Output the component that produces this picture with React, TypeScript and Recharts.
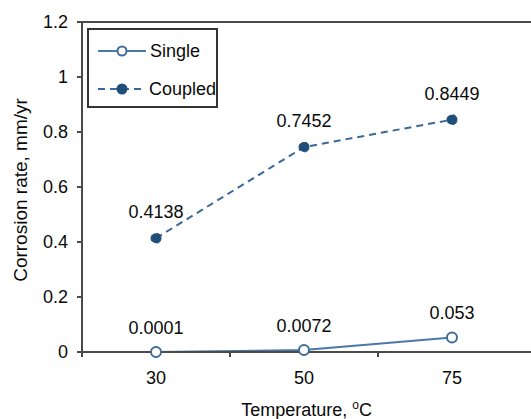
import { LineChart, Line, XAxis, YAxis, Legend, LabelList, ReferenceLine } from 'recharts';

const temperatures = ['30', '50', '75'];
const singleRate = [0.0001, 0.0072, 0.053];
const coupledRate = [0.4138, 0.7452, 0.8449];
const yTicks = [0, 0.2, 0.4, 0.6, 0.8, 1, 1.2];
// category centres at whole numbers, tick marks halfway between them
const xTicks = [-0.5, 0, 0.5, 1, 1.5, 2];
const seriesOrder = ['single', 'coupled'];

const data = temperatures.map((t, i) => ({
  temp: t,
  pos: i,
  single: singleRate[i],
  coupled: coupledRate[i],
}));

const FONT = '"Liberation Sans", Arial, sans-serif';
const AXIS = '#4a4a4a';
const TEXT = '#0a0a0a';

const series: Record<string, { stroke: string; dash?: string; fill: string; dot: string }> = {
  single: { stroke: '#4a78a8', fill: '#fff', dot: '#3e6c9c' },
  coupled: { stroke: '#3a6898', dash: '7 5', fill: '#1f4e79', dot: '#1f4e79' },
};

function XTick(props: any) {
  const { x, y, payload } = props;
  const v = payload.value;
  if (Number.isInteger(v)) {
    return (
      <text x={x} y={y + 26} textAnchor="middle" dominantBaseline="central" fontSize={18} fill={TEXT} fontFamily={FONT}>
        {temperatures[v]}
      </text>
    );
  }
  return <line x1={x} x2={x} y1={y} y2={y + 5} stroke={AXIS} strokeWidth={2} />;
}

function XTitle(props: any) {
  const vb = props.viewBox;
  const cx = vb.x + vb.width / 2;
  return (
    <text x={cx} y={416} textAnchor="middle" fontSize={18} fill={TEXT} fontFamily={FONT}>
      <tspan>Temperature, </tspan>
      <tspan dy={-7} fontSize={12}>o</tspan>
      <tspan dy={7}>C</tspan>
    </text>
  );
}

function LegendBox(props: any) {
  const items = [...(props.payload || [])].sort(
    (a: any, b: any) => seriesOrder.indexOf(a.dataKey) - seriesOrder.indexOf(b.dataKey)
  );
  return (
    <div
      style={{
        border: '2px solid #333',
        background: '#fff',
        width: 127,
        height: 76,
        boxSizing: 'content-box',
        fontFamily: FONT,
        fontSize: 18,
        color: TEXT,
      }}
    >
      {items.map((it: any, i: number) => {
        const s = series[it.dataKey];
        return (
          <div key={i} style={{ display: 'flex', alignItems: 'center', height: 38, marginTop: i === 0 ? 2 : 0 }}>
            <svg width={54} height={20} style={{ marginLeft: 7 }}>
              <line x1={2} x2={50} y1={10} y2={10} stroke={s.stroke} strokeWidth={2} strokeDasharray={s.dash} />
              <circle cx={26} cy={10} r={4.5} fill={s.fill} stroke={s.dot} strokeWidth={2} />
            </svg>
            <span>{it.value}</span>
          </div>
        );
      })}
    </div>
  );
}

export default function App() {
  return (
    <div style={{ position: 'absolute', left: 0, top: 0, width: 531, height: 419, overflow: 'hidden', background: '#fff' }}>
      <LineChart width={531} height={419} data={data} margin={{ top: 22, right: 0, bottom: 0, left: 0 }} style={{ fontFamily: FONT }}>
        <XAxis
          dataKey="pos"
          type="number"
          domain={[-0.5, 2.534]}
          ticks={xTicks}
          interval={0}
          height={67}
          tickSize={0}
          tickMargin={0}
          tickLine={false}
          tick={<XTick />}
          axisLine={{ stroke: AXIS, strokeWidth: 2 }}
          label={<XTitle />}
        />
        <YAxis
          domain={[0, 1.2]}
          ticks={yTicks}
          width={82}
          tickSize={5}
          tickMargin={9}
          tick={{ fontSize: 18, fill: TEXT }}
          tickLine={{ stroke: AXIS, strokeWidth: 2 }}
          axisLine={{ stroke: AXIS, strokeWidth: 2 }}
          label={{ value: 'Corrosion rate, mm/yr', angle: -90, position: 'insideLeft', offset: 20, fontSize: 19, fill: TEXT, dy: 3, style: { textAnchor: 'middle' } }}
        />
        <ReferenceLine y={1.2} stroke={AXIS} strokeWidth={2} />
        <Legend
          layout="vertical"
          align="center"
          verticalAlign="middle"
          content={<LegendBox />}
          wrapperStyle={{ left: 87, top: 28, width: 'auto' }}
        />
        <Line
          dataKey="single"
          name="Single"
          stroke={series.single.stroke}
          strokeWidth={2}
          dot={{ r: 5, fill: '#fff', stroke: series.single.dot, strokeWidth: 2 }}
          isAnimationActive={false}
        >
          <LabelList dataKey="single" position="top" offset={18} fontSize={18} fill={TEXT} />
        </Line>
        <Line
          dataKey="coupled"
          name="Coupled"
          stroke={series.coupled.stroke}
          strokeWidth={2}
          strokeDasharray={series.coupled.dash}
          dot={{ r: 5, fill: series.coupled.fill, stroke: series.coupled.dot, strokeWidth: 1 }}
          isAnimationActive={false}
        >
          <LabelList dataKey="coupled" position="top" offset={20} fontSize={18} fill={TEXT} />
        </Line>
      </LineChart>
    </div>
  );
}
